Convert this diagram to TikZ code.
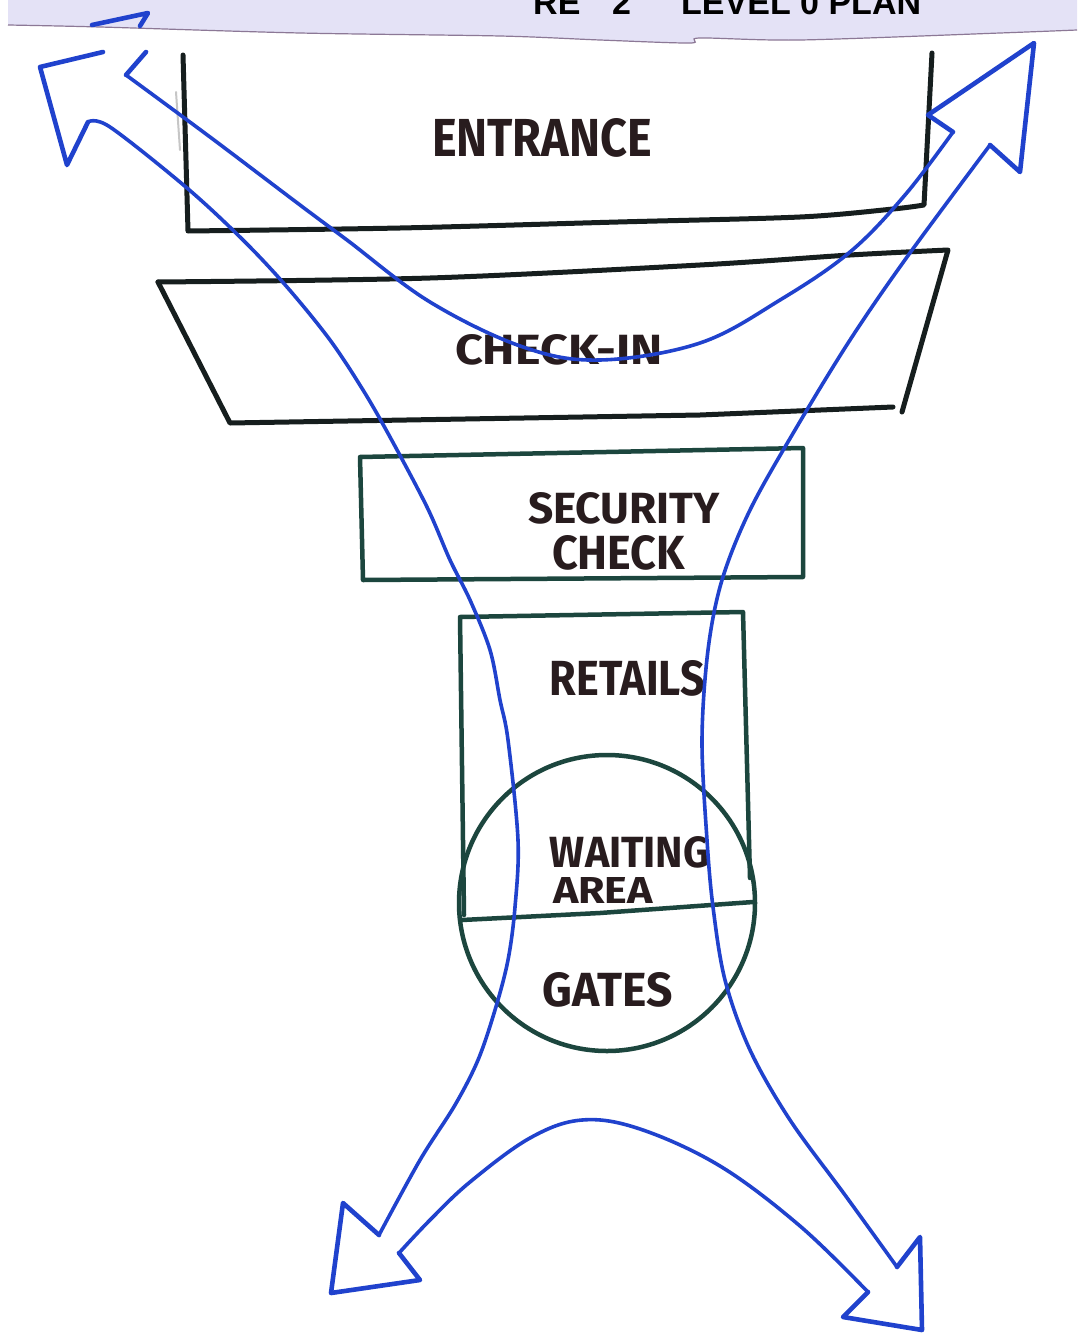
\documentclass[tikz,border=0pt]{standalone}
\usepackage{fontspec}
\usepackage{graphicx}
\setmainfont{Liberation Sans}
\newfontfamily\handfont{Fira Sans}

\definecolor{inkblue}{RGB}{32,66,205}
\definecolor{wallblack}{RGB}{22,30,30}
\definecolor{wallteal}{RGB}{28,70,62}
\definecolor{lettering}{RGB}{40,28,30}
\definecolor{paperfold}{RGB}{228,226,246}
\definecolor{foldedge}{RGB}{140,120,150}

\tikzset{
  wall/.style={draw=wallblack, line width=5pt, line join=round, line cap=round},
  wallg/.style={draw=wallteal, line width=4.5pt, line join=round, line cap=round},
  route/.style={draw=inkblue, line width=3.6pt, line join=round, line cap=round},
  routehead/.style={route, line width=4.6pt},
  lbl/.style={inner sep=0pt, text=lettering},
  heading/.style={inner sep=0pt, anchor=base west, text=black,
                  font=\fontsize{34}{40}\selectfont\bfseries},
}

\begin{document}
\begin{tikzpicture}[x=1pt, y=-1pt]
\useasboundingbox (0,0) rectangle (1077,1338);
\fill[white] (0,0) rectangle (1077,1338);

\begin{scope}
\clip (0,0) rectangle (1077,1338);
% folded sheet strip along the top edge
\fill[paperfold] (8,0) -- (1077,0) -- (1077,30)
  -- plot[smooth] coordinates {(1000,33) (800,40) (700,38) (690,43) (600,40) (500,36) (300,33) (100,27) (8,25)} -- cycle;
\draw[foldedge, line width=1.2pt] plot[smooth] coordinates {(8,25) (100,27) (300,33) (500,36) (600,40) (690,43) (700,38) (800,40) (1000,33) (1077,30)};
\node[heading] (titleA) at (533,15) {RE};
\node[heading] (titleB) at (612,15) {2};
\node[heading] (titleC) at (681,15) {LEVEL 0 PLAN};
\end{scope}

% faint pencil trace
\draw[gray!45, line width=2pt, line cap=round] (176,92) -- (180,150);

% ---- zones ----
% entrance (open at the top)
\draw[wall] (183,55) -- (188,231)
  plot[smooth] coordinates {(188,231) (400,228) (618,222) (800,217) (893,209) (924,205)}
  -- (932,53);
% check-in
\draw[wall] plot[smooth] coordinates {(158,282) (430,278) (700,265) (850,255) (948,250)} -- (902,412);
\draw[wall] (893,407) -- (700,415) -- (230,423) -- (158,282);
% security check
\draw[wallg] (360,457) -- (803,448) -- (803,577) -- (363,580) -- cycle;
% retails
\draw[wallg] (464,915) -- (460,617) -- (743,612) -- (750,878);
% waiting area / gates
\node[wallg, circle, minimum size=296pt, inner sep=0pt] (hub) at (607,903) {};
\draw[wallg] (462,920) -- (600,913) -- (753,902);

% ---- labels ----
\node[lbl] (entrance) at (542,137.5) {\resizebox{220pt}{38pt}{\handfont\bfseries ENTRANCE}};
\node[lbl] (checkin)  at (559,350)   {\resizebox{208pt}{30pt}{\handfont\bfseries CHECK-IN}};
\node[lbl] (security) at (624,508)   {\resizebox{192pt}{31pt}{\handfont\bfseries SECURITY}};
\node[lbl] (check)    at (618.5,552.5) {\resizebox{133pt}{34pt}{\handfont\bfseries CHECK}};
\node[lbl] (retails)  at (627.5,678) {\resizebox{155pt}{35pt}{\handfont\bfseries RETAILS}};
\node[lbl] (waiting)  at (630,852.5) {\resizebox{160pt}{31pt}{\handfont\bfseries WAITING}};
\node[lbl] (area)     at (603,890)   {\resizebox{100pt}{26pt}{\handfont\bfseries AREA}};
\node[lbl] (gates)    at (608,990)   {\resizebox{130pt}{34pt}{\handfont\bfseries GATES}};

% ---- four-way flow arrow outline ----
\coordinate (nwBarbTop) at (146,52);
\coordinate (nwNotchA)  at (126,75);
\coordinate (neNotchA)  at (953,132);
\coordinate (neNotchB)  at (928,115);
\coordinate (neTip)     at (1034,43);
\coordinate (neBarb)    at (1020,172);
\coordinate (neNotchC)  at (990,145);
\coordinate (seNotchA)  at (897,1267);
\coordinate (seBarbA)   at (920,1237);
\coordinate (seTip)     at (922,1330);
\coordinate (seBarbB)   at (843,1317);
\coordinate (seNotchB)  at (868,1292);
\coordinate (swNotchA)  at (399,1253);
\coordinate (swBarbA)   at (420,1280);
\coordinate (swTip)     at (331,1293);
\coordinate (swBarbB)   at (343,1203);
\coordinate (swNotchB)  at (379,1235);
\coordinate (nwNotchB)  at (88,122);
\coordinate (nwBarbB)   at (67,165);
\coordinate (nwTip)     at (40,67);
\coordinate (nwBarbC)   at (103,52);

% north-west head
\draw[routehead] (nwBarbTop) -- (nwNotchA);
\draw[routehead] (nwNotchB) -- (nwBarbB) -- (nwTip) -- (nwBarbC);
\draw[routehead] (92,25) -- (148,13) -- (140,26);
% sweep under check-in to the north-east head
\draw[route] plot[smooth, tension=0.6] coordinates {(126,75) (210,137) (300,205) (347,240) (430,302) (523,347) (600,360) (700,343) (780,300) (850,252) (905,195) (953,132)};
\draw[routehead] (neNotchA) -- (neNotchB) -- (neTip) -- (neBarb) -- (neNotchC);
% north-east down to south-east
\draw[route] plot[smooth, tension=0.55] coordinates {(990,145) (907,257) (850,340) (795,430) (750,510) (722,580) (708,650) (702,740) (707,840) (713,907) (725,980) (750,1050) (790,1120) (845,1195) (897,1267)};
\draw[routehead] (seNotchA) -- (seBarbA) -- (seTip) -- (seBarbB) -- (seNotchB);
% hump between the two southern heads
\draw[route] plot[smooth, tension=0.6] coordinates {(868,1292) (800,1226) (720,1166) (640,1129) (582,1120) (530,1138) (470,1182) (430,1220) (399,1253)};
\draw[routehead] (swNotchA) -- (swBarbA) -- (swTip) -- (swBarbB) -- (swNotchB);
% south-west back up to north-west
\draw[route] plot[smooth, tension=0.55] coordinates {(379,1235) (420,1160) (455,1105) (478,1060) (495,1010) (508,960) (515,907) (518,840) (508,740) (500,700) (490,650) (470,600) (450,560) (427,507) (390,437) (363,390) (330,340) (287,287) (243,240) (187,188) (110,127) (88,122)};
\end{tikzpicture}
\end{document}
